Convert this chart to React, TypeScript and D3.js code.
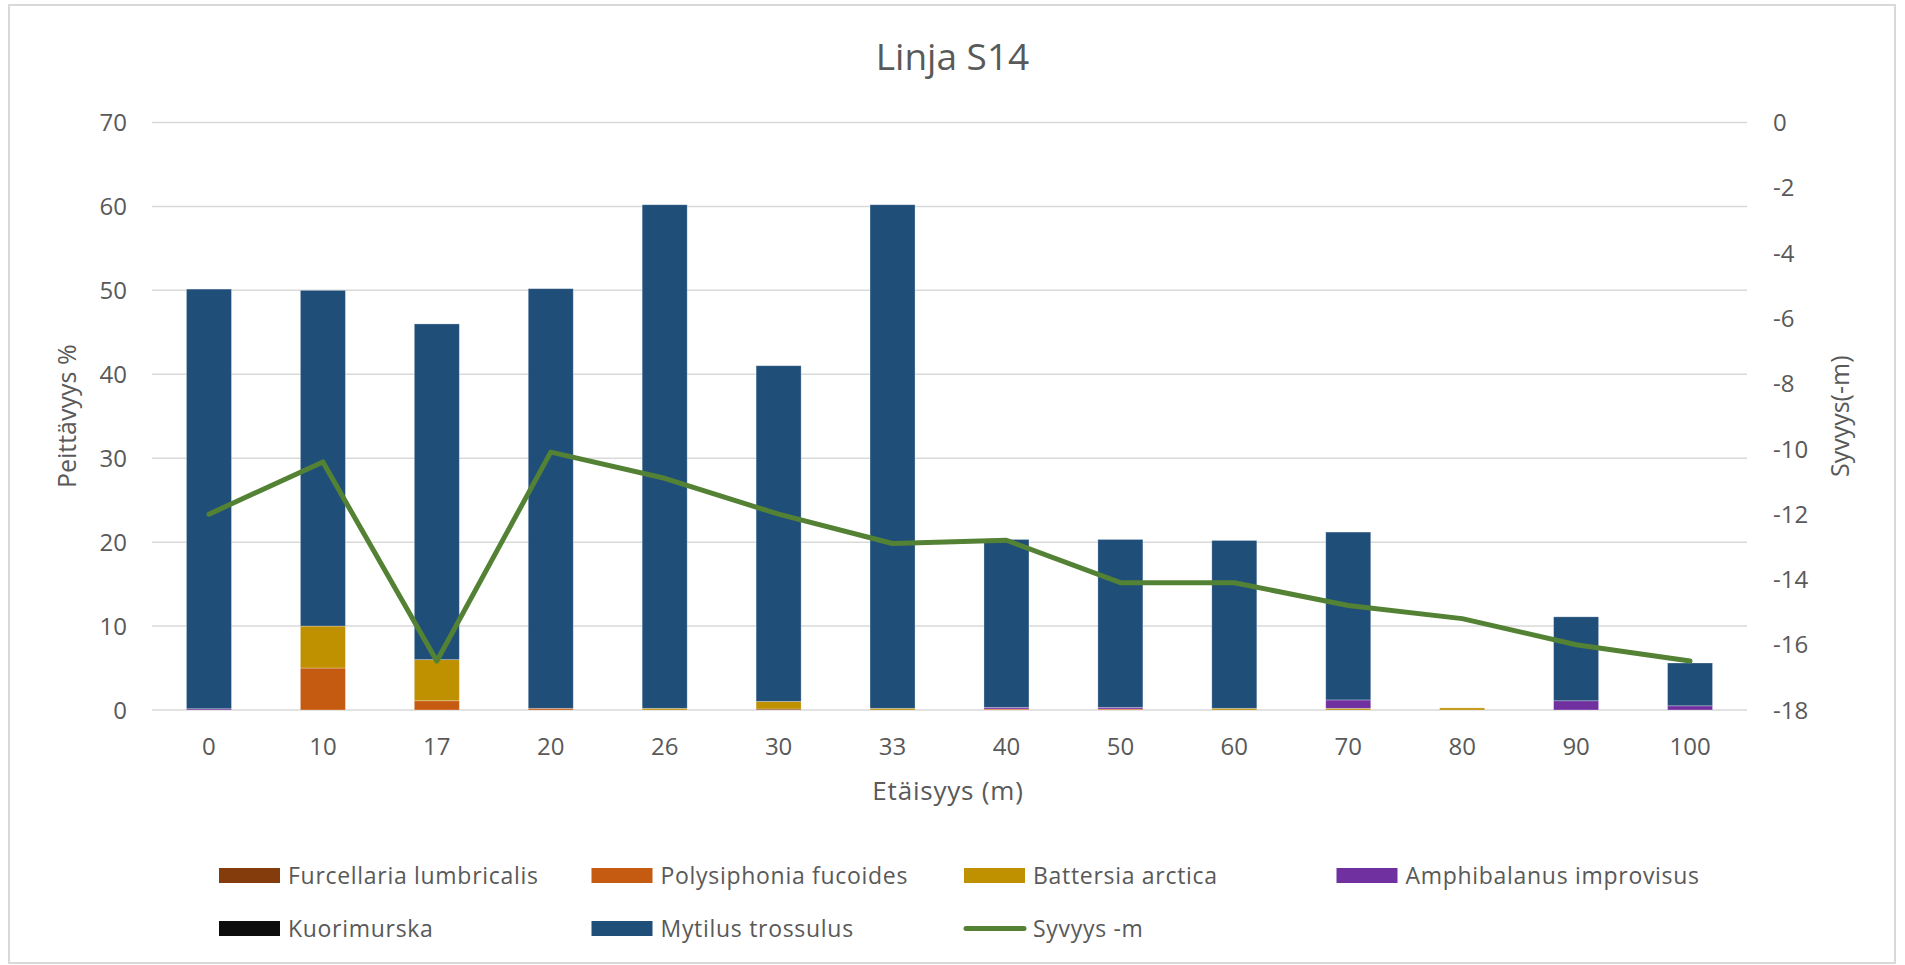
import React from "react";
import * as d3 from "d3";

const categories = ["0", "10", "17", "20", "26", "30", "33", "40", "50", "60", "70", "80", "90", "100"];
const furcellaria = [0, 0, 0, 0, 0, 0.12, 0, 0, 0, 0, 0, 0, 0, 0];
const polysiphonia = [0, 5, 1.1, 0.2, 0, 0, 0, 0.12, 0.12, 0, 0, 0, 0, 0];
const battersia = [0, 5, 4.9, 0, 0.2, 0.9, 0.2, 0, 0, 0.2, 0.2, 0.25, 0, 0];
const amphibalanus = [0.15, 0, 0, 0, 0, 0, 0, 0.2, 0.2, 0, 1, 0, 1.1, 0.5];
const kuorimurska = [0, 0, 0, 0, 0, 0, 0, 0, 0, 0, 0, 0, 0, 0];
const mytilus = [50, 40, 40, 50, 60, 40, 60, 20, 20, 20, 20, 0, 10, 5.1];
const depth = [-12, -10.4, -16.5, -10.1, -10.9, -12, -12.9, -12.8, -14.1, -14.1, -14.8, -15.2, -16, -16.5];

const leftTicks = [0, 10, 20, 30, 40, 50, 60, 70];
const rightTicks = [0, -2, -4, -6, -8, -10, -12, -14, -16, -18];

const seriesNames = [
  "Furcellaria lumbricalis",
  "Polysiphonia fucoides",
  "Battersia arctica",
  "Amphibalanus improvisus",
  "Kuorimurska",
  "Mytilus trossulus",
];
const seriesColors = ["#843C0C", "#C55A11", "#BF9000", "#7030A0", "#0D0D0D", "#1F4E79"];
const lineName = "Syvyys -m";
const lineColor = "#548235";

const title = "Linja S14";
const leftTitle = "Peittävyys %";
const rightTitle = "Syvyys(-m)";
const xTitle = "Etäisyys (m)";

const W = 1905;
const H = 965;
const plot = { left: 152, right: 1747, top: 122.5, bottom: 710 };
const textColor = "#595959";
const font = "'Open Sans', 'DejaVu Sans', sans-serif";

export default function App() {
  const seriesValues = [furcellaria, polysiphonia, battersia, amphibalanus, kuorimurska, mytilus];
  const rows = categories.map((c, i) => {
    const r: any = { cat: c };
    seriesNames.forEach((n, s) => (r[n] = seriesValues[s][i]));
    return r;
  });
  const stack = d3.stack<any>().keys(seriesNames)(rows);

  const x = d3.scaleBand<string>().domain(categories).range([plot.left, plot.right]).padding(0);
  const barW = x.bandwidth() * 0.395;
  const yL = d3.scaleLinear().domain([0, 70]).range([plot.bottom, plot.top]);
  const yR = d3.scaleLinear().domain([-18, 0]).range([plot.bottom, plot.top]);

  const cx = (c: string) => (x(c) as number) + x.bandwidth() / 2;
  const line = d3
    .line<number>()
    .x((_, i) => cx(categories[i]))
    .y((d) => yR(d));

  const legendItems = [
    { name: seriesNames[0], color: seriesColors[0], type: "rect" },
    { name: seriesNames[1], color: seriesColors[1], type: "rect" },
    { name: seriesNames[2], color: seriesColors[2], type: "rect" },
    { name: seriesNames[3], color: seriesColors[3], type: "rect" },
    { name: seriesNames[4], color: seriesColors[4], type: "rect" },
    { name: seriesNames[5], color: seriesColors[5], type: "rect" },
    { name: lineName, color: lineColor, type: "line" },
  ];
  const legX0 = 219;
  const legColW = 372.5;
  const legRowY = [875.5, 928.5];

  return (
    <svg
      width={W}
      height={H}
      style={{ position: "absolute", left: 0, top: 0, background: "#fff", fontFamily: font }}
    >
      <rect x={9} y={5} width={1886} height={958} fill="#fff" stroke="#d9d9d9" strokeWidth={2} />
      <text x={W / 2} y={70} textAnchor="middle" fontSize={37} fill={textColor}>
        {title}
      </text>

      {leftTicks.map((t) => (
        <line key={"g" + t} x1={plot.left} x2={plot.right} y1={yL(t)} y2={yL(t)} stroke="#d9d9d9" strokeWidth={1.5} />
      ))}

      {stack.map((layer, s) => (
        <g key={"s" + s} fill={seriesColors[s]}>
          {layer.map((d, i) => {
            const h = yL(d[0]) - yL(d[1]);
            if (h <= 0) return null;
            return (
              <rect
                key={i}
                x={cx(categories[i]) - barW / 2}
                y={yL(d[1])}
                width={barW}
                height={h}
                stroke="#ffffff"
                strokeOpacity={0.35}
                strokeWidth={0.8}
              />
            );
          })}
        </g>
      ))}

      <path
        d={line(depth) || ""}
        fill="none"
        stroke={lineColor}
        strokeWidth={5}
        strokeLinejoin="round"
        strokeLinecap="round"
      />

      {leftTicks.map((t) => (
        <text key={"l" + t} x={127} y={yL(t)} dy="0.36em" textAnchor="end" fontSize={24} fill={textColor}>
          {t}
        </text>
      ))}
      {rightTicks.map((t) => (
        <text key={"r" + t} x={1773} y={yR(t)} dy="0.36em" textAnchor="start" fontSize={24} fill={textColor}>
          {t}
        </text>
      ))}
      {categories.map((c) => (
        <text key={"x" + c} x={cx(c)} y={755} textAnchor="middle" fontSize={24} fill={textColor}>
          {c}
        </text>
      ))}

      <text
        transform={`translate(76, ${(plot.top + plot.bottom) / 2}) rotate(-90)`}
        textAnchor="middle"
        fontSize={25}
        fill={textColor}
      >
        {leftTitle}
      </text>
      <text
        transform={`translate(1849, ${(plot.top + plot.bottom) / 2}) rotate(-90)`}
        textAnchor="middle"
        fontSize={25}
        fill={textColor}
      >
        {rightTitle}
      </text>
      <text x={948} y={800} textAnchor="middle" fontSize={26} letterSpacing={0.8} fill={textColor}>
        {xTitle}
      </text>

      {legendItems.map((it, i) => {
        const col = i < 4 ? i : i - 4;
        const row = i < 4 ? 0 : 1;
        const lx = legX0 + col * legColW;
        const ly = legRowY[row];
        return (
          <g key={"leg" + i}>
            {it.type === "rect" ? (
              <rect x={lx} y={ly - 7.5} width={61} height={15} fill={it.color} />
            ) : (
              <line
                x1={lx + 2}
                x2={lx + 60}
                y1={ly}
                y2={ly}
                stroke={it.color}
                strokeWidth={5}
                strokeLinecap="round"
              />
            )}
            <text x={lx + 69} y={ly} dy="0.36em" fontSize={23} letterSpacing={0.7} fill={textColor}>
              {it.name}
            </text>
          </g>
        );
      })}
    </svg>
  );
}
